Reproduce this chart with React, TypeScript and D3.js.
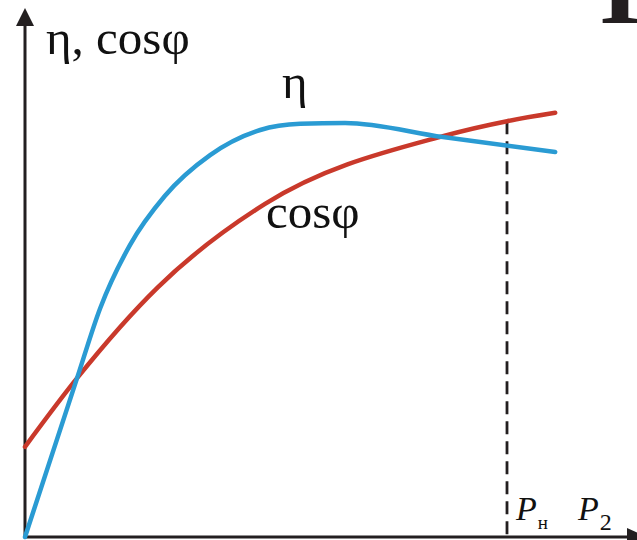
import React from "react";
import * as d3 from "d3";

// Load fraction P2 / Pн and relative values of efficiency and power factor
const loadEta = [0, 0.108, 0.156, 0.218, 0.29, 0.384, 0.488, 0.571, 0.664, 0.867, 1.1];
const etaValues = [0, 0.361, 0.52, 0.664, 0.775, 0.868, 0.925, 0.939, 0.941, 0.909, 0.875];
const loadCos = [0, 0.108, 0.276, 0.498, 0.867, 1.0, 1.1];
const cosValues = [0.205, 0.361, 0.568, 0.757, 0.911, 0.945, 0.964];
const ratedLoad = 1.0;

const W = 637;
const H = 540;
const axisColor = "#231f20";
const etaColor = "#2a9bd3";
const cosColor = "#c9392b";
const serif = "'Liberation Serif', 'DejaVu Serif', serif";

export default function App() {
  const x = d3.scaleLinear().domain([0, 1]).range([25, 507]);
  const y = d3.scaleLinear().domain([0, 1]).range([537, 97]);

  const line = d3
    .line<[number, number]>()
    .x((d) => x(d[0]))
    .y((d) => y(d[1]))
    .curve(d3.curveMonotoneX);

  const etaPath = line(loadEta.map((v, i) => [v, etaValues[i]]) as [number, number][]) || "";
  const cosPath = line(loadCos.map((v, i) => [v, cosValues[i]]) as [number, number][]) || "";

  const ratedIdx = loadCos.indexOf(ratedLoad);
  const ratedCos = cosValues[ratedIdx];

  const x0 = x(0);
  const y0 = y(0);

  return (
    <svg
      width={W}
      height={H}
      viewBox={`0 0 ${W} ${H}`}
      style={{ position: "absolute", left: 0, top: 0, background: "#fff" }}
    >
      <rect width={W} height={H} fill="#fff" />

      {/* partially visible heading letter */}
      <text x={599} y={23} fontFamily={serif} fontWeight="bold" fontSize={108} fill={axisColor}>
        I
      </text>

      {/* axes with arrows */}
      <line x1={x0} y1={y0 + 1} x2={x0} y2={20} stroke={axisColor} strokeWidth={3} />
      <path d={`M${x0},8 L${x0 - 9},26 L${x0 + 9},26 Z`} fill={axisColor} />
      <line x1={x0 - 1} y1={y0} x2={630} y2={y0} stroke={axisColor} strokeWidth={3} />
      <path d={`M647,${y0} L627,${y0 - 9} L627,${y0 + 9} Z`} fill={axisColor} />

      {/* rated load marker */}
      <line
        x1={x(ratedLoad)}
        y1={y(ratedCos)}
        x2={x(ratedLoad)}
        y2={y0}
        stroke={axisColor}
        strokeWidth={2.8}
        strokeDasharray="13 7"
      />

      {/* curves */}
      <path d={cosPath} fill="none" stroke={cosColor} strokeWidth={4.5} strokeLinecap="round" />
      <path d={etaPath} fill="none" stroke={etaColor} strokeWidth={4.5} strokeLinecap="round" />

      {/* labels */}
      <text x={46} y={54} fontFamily={serif} fontSize={49} fill="#111">
        η, cosφ
      </text>
      <text x={282} y={98} fontFamily={serif} fontSize={49} fill="#111">
        η
      </text>
      <text x={266} y={228} fontFamily={serif} fontSize={49} fill="#111">
        cosφ
      </text>
      <text x={516} y={520} fontFamily={serif} fontSize={34} fill="#111">
        <tspan fontStyle="italic">P</tspan>
        <tspan fontSize={19} dx={1} dy={9}>н</tspan>
      </text>
      <text x={578} y={520} fontFamily={serif} fontSize={34} fill="#111">
        <tspan fontStyle="italic">P</tspan>
        <tspan fontSize={24} dx={1} dy={10}>2</tspan>
      </text>
    </svg>
  );
}
